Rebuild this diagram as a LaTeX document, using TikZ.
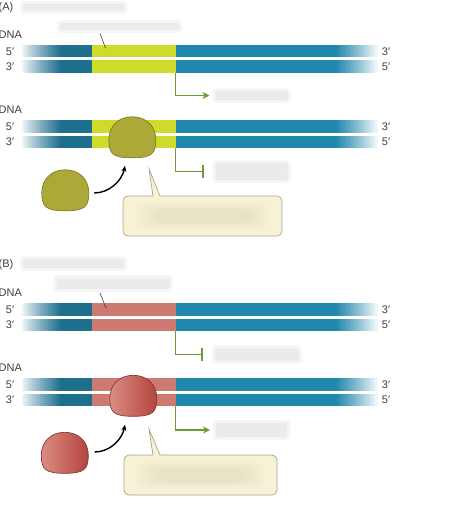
\documentclass[tikz,border=0pt]{standalone}
\usepackage{fontspec}
\setmainfont{Liberation Sans}
\usetikzlibrary{arrows.meta,calc}
\definecolor{dnadark}{HTML}{1E6E8E}
\definecolor{dnablue}{HTML}{2187AC}
\definecolor{regyel}{HTML}{CEDB2A}
\definecolor{regpink}{HTML}{CC7A72}
\definecolor{olA}{HTML}{ABA937}
\definecolor{olB}{HTML}{C4C24C}
\definecolor{olC}{HTML}{ADA938}
\definecolor{olE}{HTML}{7E7B2A}
\definecolor{rdA}{HTML}{DB8C82}
\definecolor{rdB}{HTML}{C8645C}
\definecolor{rdC}{HTML}{B4443F}
\definecolor{rdE}{HTML}{8A3A35}
\definecolor{gline}{HTML}{6D9C34}
\definecolor{cream}{HTML}{F7F1D6}
\definecolor{creamedge}{HTML}{ABA58C}
\definecolor{txt}{HTML}{3F3F3F}
\tikzset{
  lbl/.style={inner sep=0pt, text=txt, font=\fontsize{11}{13}\selectfont},
  smudge/.style={inner sep=0pt, fill=black!8, draw=black!4, line width=3pt, rounded corners=3pt},
  protbox/.style={inner sep=0pt, minimum width=47pt, minimum height=41pt},
  greenline/.style={draw=gline, line width=1.9pt},
  actarrow/.style={greenline, -{Stealth[length=7pt,width=7pt]}},
  reparrow/.style={greenline, -{Bar[width=13pt,line width=1.9pt]}},
  bindarrow/.style={draw=black, line width=1.4pt, -{Stealth[length=6pt,width=5pt]}},
  pointer/.style={draw=txt, line width=0.6pt},
  callout/.style={fill=cream, draw=creamedge, line width=0.7pt, rounded corners=5pt},
}
\newcommand\onestrand[2]{%
  \foreach \i in {0,...,20}{%
    \pgfmathsetmacro\pc{100*(\i/20)^0.85}%
    \fill[dnadark!\pc!white] ({20+2*\i},#1) rectangle ({22.6+2*\i},{#1+12.5});
  }
  \fill[dnadark] (62,#1) rectangle (92.5,{#1+12.5});
  \fill[#2] (92,#1) rectangle (176.5,{#1+12.5});
  \fill[dnablue] (176,#1) rectangle (335.5,{#1+12.5});
  \foreach \i in {0,...,20}{%
    \pgfmathsetmacro\pc{100*(1-\i/21)^0.85}%
    \fill[dnablue!\pc!white] ({335+2*\i},#1) rectangle ({337.6+2*\i},{#1+12.5});
  }
}
\newcommand\dnapair[3]{% name, top y, region colour
  \node[lbl, anchor=west] (#1-dna) at (-1.5,{#2-10}) {DNA};
  \onestrand{#2}{#3}
  \onestrand{#2+15.5}{#3}
  \node[lbl] (#1-l1) at (10,{#2+6.5}) {5′};
  \node[lbl] (#1-l2) at (10,{#2+22}) {3′};
  \node[lbl] (#1-r1) at (386,{#2+6.5}) {3′};
  \node[lbl] (#1-r2) at (386,{#2+22}) {5′};
  \coordinate (#1-tss) at (175.5,{#2+28});
}
\newcommand\protein[4]{% name, centre x, centre y, colour prefix
  \node[protbox] (#1) at (#2,#3) {};
  \begin{scope}[shift={(#1.north west)}]
    \path[shade, left color=#4A, middle color=#4B, right color=#4C, draw=#4E, line width=0.7pt]
      (0,23) .. controls (0,9) and (10,0) .. (23.5,0)
      .. controls (37,0) and (47,9) .. (47,23)
      .. controls (47,37) and (43,41) .. (23.5,41)
      .. controls (4,41) and (0,37) .. (0,23) -- cycle;
  \end{scope}
}
\newcommand\calloutbox[5]{% name, x1, y1, x2, y2
  \path[callout] (#2,#3) rectangle (#4,#5);
  \coordinate (#1) at ({(#2+#4)/2},#3);
  \foreach \k in {0,...,4}{%
    \fill[black, opacity=0.012, rounded corners=8pt] ({#2+12+5*\k},{#3+7+1.6*\k}) rectangle ({#4-12-5*\k},{#5-7-1.6*\k});
  }
}
\begin{document}
\begin{tikzpicture}[x=1pt,y=-1pt]
\useasboundingbox (0,0) rectangle (474,511);
\fill[white] (0,0) rectangle (474,511);

% ---------------- Panel A ----------------
\node[lbl, anchor=west] (hA) at (-1.5,7.5) {(A)};
\node[smudge, minimum width=104pt, minimum height=10pt] (hAlab) at (73.5,7.5) {};
\node[smudge, minimum width=122pt, minimum height=10pt] (a1lab) at (119.5,26.5) {};
\dnapair{a1}{45}{regyel}
\coordinate (a1reg) at (105.5,48);
\draw[pointer] (100,33.5) -- (a1reg);
\node[smudge, minimum width=75pt, minimum height=12pt] (a1out) at (251.5,95.5) {};
\draw[actarrow, shorten >=3pt] (a1-tss) |- (a1out.west);

\dnapair{a2}{120}{regyel}
\protein{a2bound}{132.5}{137.5}{ol}
\protein{a2free}{65.5}{190.5}{ol}
\draw[bindarrow] ([xshift=5pt,yshift=-2.5pt]a2free.east) .. controls +(15,0) and +(-3,15) .. ([xshift=-7.5pt,yshift=-7.5pt]a2bound.south);
\node[smudge, minimum width=75pt, minimum height=20pt] (a2out) at (251.5,171.5) {};
\draw[reparrow, shorten >=9pt] (a2-tss) |- (a2out.west);
\calloutbox{a2call}{123}{196}{282}{236}
\coordinate (a2tip) at (149,169);
\fill[cream] (a2tip) -- (153,197) -- (160,197) -- cycle;
\draw[draw=creamedge, line width=0.7pt] (153,196) -- (a2tip) -- (160,196);

% ---------------- Panel B ----------------
\node[lbl, anchor=west] (hB) at (-1.5,265) {(B)};
\node[smudge, minimum width=104pt, minimum height=12pt] (hBlab) at (73.5,263.5) {};
\node[smudge, minimum width=116pt, minimum height=14pt] (b1lab) at (113,283.5) {};
\dnapair{b1}{303}{regpink}
\coordinate (b1reg) at (106,308);
\draw[pointer] (100,293) -- (b1reg);
\node[smudge, minimum width=87pt, minimum height=15pt] (b1out) at (257,354.5) {};
\draw[reparrow, shorten >=9pt] (b1-tss) |- (b1out.west);

\dnapair{b2}{378}{regpink}
\protein{b2bound}{133.5}{396}{rd}
\protein{b2free}{65}{453}{rd}
\draw[bindarrow] ([xshift=6pt,yshift=1pt]b2free.east) .. controls +(15,0) and +(-3,15) .. ([xshift=-8.5pt,yshift=-8pt]b2bound.south);
\node[smudge, minimum width=74pt, minimum height=17pt] (b2out) at (251.5,430) {};
\draw[actarrow, shorten >=3pt] (b2-tss) |- (b2out.west);
\calloutbox{b2call}{124}{455}{277}{495}
\coordinate (b2tip) at (149,429);
\fill[cream] (b2tip) -- (153,456) -- (160,456) -- cycle;
\draw[draw=creamedge, line width=0.7pt] (153,455) -- (b2tip) -- (160,455);
\end{tikzpicture}
\end{document}
